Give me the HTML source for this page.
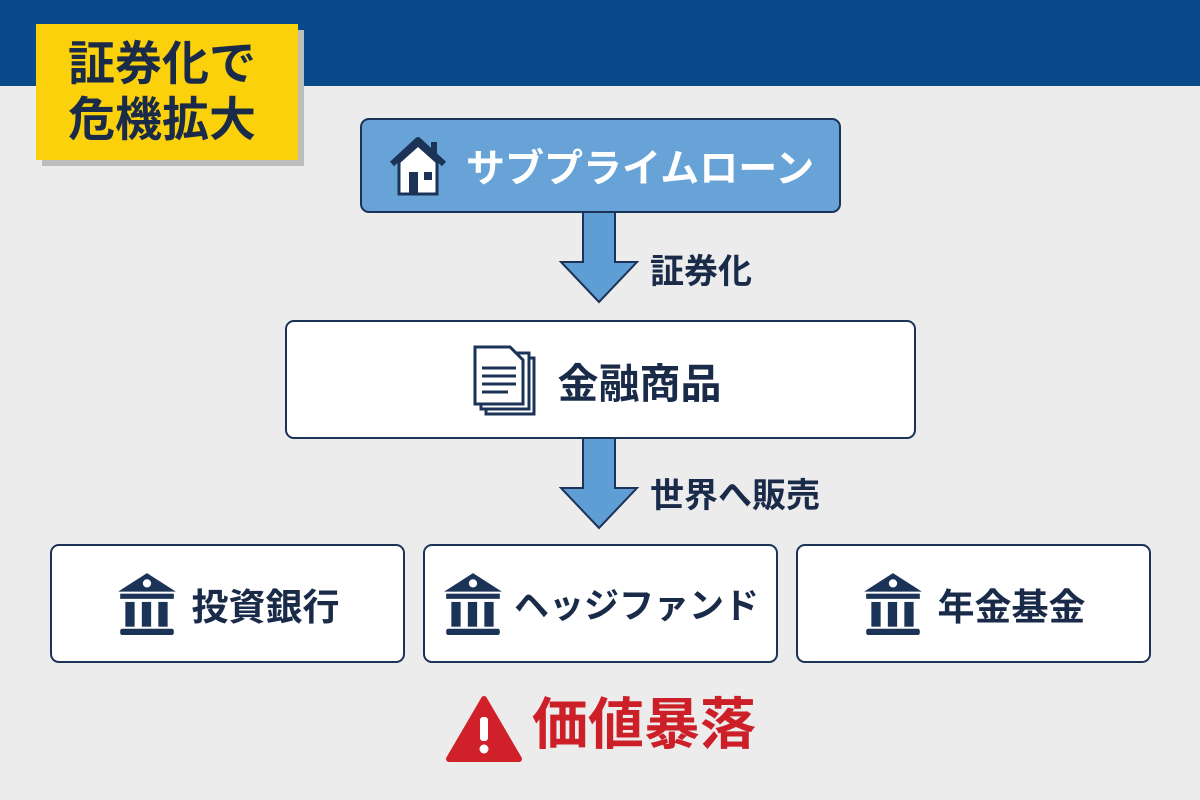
<!DOCTYPE html>
<html><head><meta charset="utf-8"><style>
body{margin:0;width:1200px;height:800px;background:#ececec;position:relative;overflow:hidden;font-family:"Liberation Sans","Noto Sans CJK JP",sans-serif;font-weight:bold;color:#1a2b4a}
.a{position:absolute}
.box{position:absolute;border:2.5px solid #1c3358;border-radius:9px;background:#fff;box-sizing:border-box;display:flex;align-items:center;justify-content:center}
</style></head><body>
<div class="a" style="left:0;top:0;width:1200px;height:86px;background:#0b4a8a"></div>
<div class="a" style="left:42px;top:30px;width:262px;height:136px;background:#bdbdbd"></div>
<div class="a" style="left:36px;top:24px;width:262px;height:136px;background:#fbd10c;font-size:47px;line-height:56px;padding:12px 0 0 32px;box-sizing:border-box;color:#1a2b4a">証券化で<br>危機拡大</div>

<div class="box" style="left:360px;top:118px;width:481px;height:95px;background:#68a3d8;justify-content:flex-start;padding-left:24px">
<svg width="64" height="64" viewBox="0 0 64 64"><path d="M6 30 L32 6 L58 30" fill="none" stroke="#1c3358" stroke-width="6" stroke-linejoin="round"/><rect x="45" y="8" width="6" height="14" fill="#1c3358"/><path d="M13 28 L32 11 L51 28 V60 H13Z" fill="#fff" stroke="#1c3358" stroke-width="3"/><rect x="23" y="38" width="9" height="22" fill="#1c3358"/><rect x="38" y="38" width="8" height="8" fill="#1c3358"/></svg>
<span style="color:#fff;font-size:39px;margin-left:16px">サブプライムローン</span></div>

<svg class="a" style="left:555px;top:212px" width="90" height="320"><path d="M28 0 H60 V50 H82 L44 90 L6 50 H28Z" fill="#5f9dd5" stroke="#1c3358" stroke-width="2"/><path d="M28 226 H60 V276 H82 L44 316 L6 276 H28Z" fill="#5f9dd5" stroke="#1c3358" stroke-width="2"/></svg>
<div class="a" style="left:650px;top:244px;font-size:34px">証券化</div>
<div class="a" style="left:650px;top:468px;font-size:34px">世界へ販売</div>

<div class="box" style="left:285px;top:320px;width:631px;height:119px">
<svg width="70" height="72" viewBox="0 0 70 72" style="margin-right:16px;margin-left:-8px"><rect x="14" y="14" width="48" height="56" fill="#fff" stroke="#1c3358" stroke-width="3"/><rect x="9" y="9" width="48" height="56" fill="#fff" stroke="#1c3358" stroke-width="3"/><path d="M3 3 H38 L51 16 V60 H3Z" fill="#fff" stroke="#1c3358" stroke-width="3"/><g stroke="#1c3358" stroke-width="3"><line x1="10" y1="24" x2="44" y2="24"/><line x1="10" y1="32" x2="44" y2="32"/><line x1="10" y1="40" x2="44" y2="40"/><line x1="10" y1="48" x2="36" y2="48"/></g></svg>
<span style="font-size:41px">金融商品</span></div>

<svg width="0" height="0" style="position:absolute"><defs><symbol id="bk" viewBox="0 0 60 64"><path d="M2 20 L30 2 L58 20Z" fill="#1c3358"/><circle cx="30" cy="12" r="4" fill="#fff"/><rect x="4" y="22" width="52" height="5" fill="#1c3358"/><rect x="9" y="30" width="9" height="24" fill="#1c3358"/><rect x="25" y="30" width="9" height="24" fill="#1c3358"/><rect x="41" y="30" width="9" height="24" fill="#1c3358"/><rect x="4" y="56" width="52" height="6" rx="2" fill="#1c3358"/></symbol></defs></svg>
<div class="box" style="left:50px;top:544px;width:355px;height:119px"><svg width="62" height="66"><use href="#bk"/></svg><span style="font-size:37px;margin-left:14px">投資銀行</span></div>
<div class="box" style="left:423px;top:544px;width:355px;height:119px"><svg width="62" height="66"><use href="#bk"/></svg><span style="font-size:35px;margin-left:10px">ヘッジファンド</span></div>
<div class="box" style="left:796px;top:544px;width:355px;height:119px"><svg width="62" height="66"><use href="#bk"/></svg><span style="font-size:37px;margin-left:14px">年金基金</span></div>

<svg class="a" style="left:445px;top:695px" width="78" height="68"><path d="M39 4 L74 64 H4Z" fill="#d0202a" stroke="#d0202a" stroke-width="6" stroke-linejoin="round"/><rect x="35" y="22" width="8" height="24" rx="3" fill="#fff"/><circle cx="39" cy="54" r="4.5" fill="#fff"/></svg>
<div class="a" style="left:532px;top:692px;font-size:56px;color:#cc1f28;line-height:66px">価値暴落</div>
</body></html>
